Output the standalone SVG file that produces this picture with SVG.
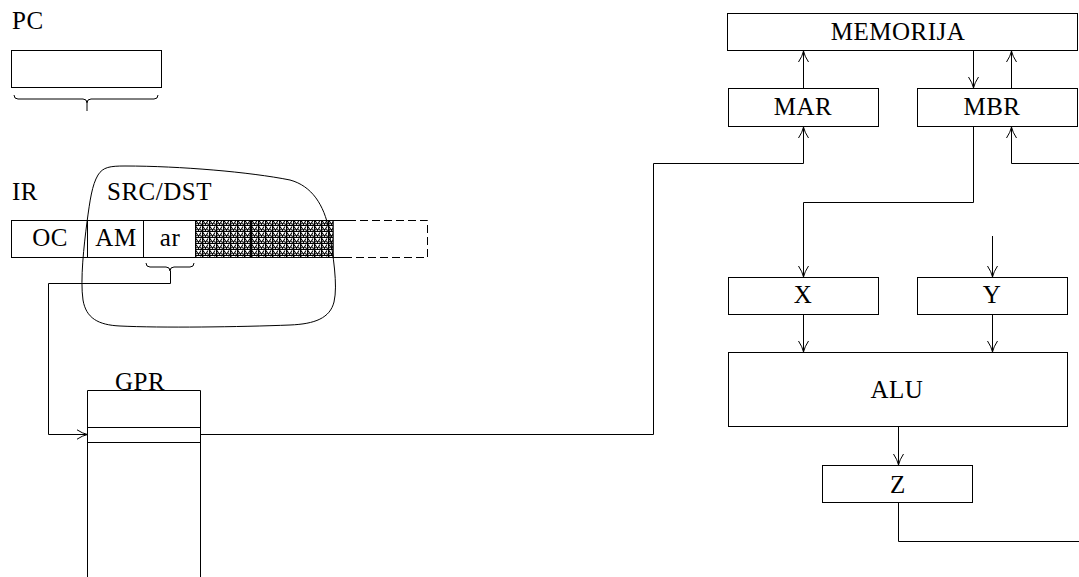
<svg xmlns="http://www.w3.org/2000/svg" width="1079" height="577" viewBox="0 0 1079 577">
<style>
.t{font-family:"Liberation Serif","Times New Roman",serif;font-size:25px;letter-spacing:0.5px;fill:#000}
.c{text-anchor:middle}
.b{fill:#fff;stroke:#000;stroke-width:1}
.l{fill:none;stroke:#000;stroke-width:1}
.a{fill:none;stroke:#000;stroke-width:1;marker-end:url(#arr)}
</style>
<defs>
<marker id="arr" markerUnits="userSpaceOnUse" markerWidth="14" markerHeight="12" refX="11" refY="5" orient="auto" viewBox="0 0 14 10">
<path d="M0,0 Q6,4 11,5 Q6,6 0,10" fill="none" stroke="#000" stroke-width="1"/>
</marker>
<pattern id="hatch" width="7" height="6" patternUnits="userSpaceOnUse" x="195" y="220">
<rect width="7" height="6" fill="#fff"/>
<path d="M1,0.5 L3.5,4.5 L6,0.5 M0,5.5 H7 M0.5,0 V6 M1.5,3 L0.5,5 M5.5,3 L6.5,5" stroke="#000" stroke-width="1.1" fill="none"/>
</pattern>
</defs>

<g id="pc">
<text class="t" x="12" y="29">PC</text>
<rect class="b" x="11.5" y="50.5" width="150" height="37"/>
<path class="l" d="M14,95 Q14,99 18,99 H83 Q87,99 87,103 Q87,99 91,99 H154 Q158,99 158,95 M87,103 V111"/>
</g>

<g id="ir">
<text class="t" x="12" y="200">IR</text>
<rect class="b" x="11.5" y="220.5" width="321.5" height="37"/>
<rect x="195.5" y="220.5" width="137.5" height="37" fill="url(#hatch)" stroke="#000" stroke-width="1"/>
<path class="l" d="M250.5,220.5 V257.5"/>
<path class="l" d="M87.5,220.5 V257.5 M143.5,220.5 V257.5"/>
<path class="l" d="M333,220.5 H348 M333,257.5 H348"/>
<path class="l" stroke-dasharray="8,4" d="M348,220.5 H427.5 V257.5 H348"/>
<text class="t c" x="50" y="246">OC</text>
<text class="t c" x="116" y="246">AM</text>
<text class="t c" x="170" y="246">ar</text>
<path class="l" d="M146,263 Q146,267 150,267 H166 Q170,267 170,271 Q170,267 174,267 H190 Q194,267 194,263"/>
</g>

<g id="srcdst">
<text class="t" x="107" y="200">SRC/DST</text>
<path class="l" d="M87,222 C90,200 92,185 98,175 C103,167 110,166 125,166 C180,166 250,172 290,180 C312,186 324,205 329,230 C333,255 338,285 334,302 C330,318 315,324 290,325 C240,327 160,328 120,326 C98,325 86,318 83,300 C80,280 84,245 87,222 Z"/>
</g>

<g id="gpr">
<text class="t c" x="140" y="390">GPR</text>
<path class="b" d="M87.5,577 V390.5 H200.5 V577"/>
<path class="l" d="M87.5,427.5 H200.5 M87.5,442.5 H200.5"/>
</g>

<g id="memorija">
<rect class="b" x="727.5" y="13.5" width="350" height="37"/>
<text class="t c" x="898" y="40">MEMORIJA</text>
</g>
<g id="mar">
<rect class="b" x="728.5" y="88.5" width="150" height="38"/>
<text class="t c" x="803" y="115">MAR</text>
</g>
<g id="mbr">
<rect class="b" x="917.5" y="88.5" width="160" height="38"/>
<text class="t c" x="992" y="115">MBR</text>
</g>
<g id="x">
<rect class="b" x="728.5" y="277.5" width="150" height="37"/>
<text class="t c" x="803" y="303">X</text>
</g>
<g id="y">
<rect class="b" x="917.5" y="277.5" width="150" height="37"/>
<text class="t c" x="992" y="303">Y</text>
</g>
<g id="alu">
<rect class="b" x="728.5" y="352.5" width="339" height="74"/>
<text class="t c" x="897" y="398">ALU</text>
</g>
<g id="z">
<rect class="b" x="822.5" y="465.5" width="150" height="37"/>
<text class="t c" x="898" y="493">Z</text>
</g>

<g id="connectors">
<path class="a" d="M170.5,271 V283.5 H48.5 V434.5 H87.5"/>
<path class="a" d="M200.5,434.5 H653.5 V163.5 H803.5 V127"/>
<path class="a" d="M803.5,88 V51"/>
<path class="a" d="M973.5,51 V88"/>
<path class="a" d="M1011.5,88 V51"/>
<path class="a" d="M1079,163.5 H1011.5 V127"/>
<path class="a" d="M973.5,127 V202.5 H803.5 V277"/>
<path class="a" d="M992.5,236 V277"/>
<path class="a" d="M803.5,315 V352"/>
<path class="a" d="M992.5,315 V352"/>
<path class="a" d="M898.5,427 V465"/>
<path class="l" d="M898.5,503 V541.5 H1079"/>
</g>
</svg>
